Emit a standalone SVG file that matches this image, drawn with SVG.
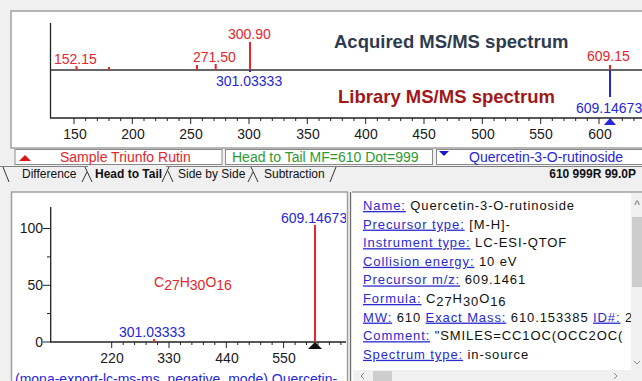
<svg xmlns="http://www.w3.org/2000/svg" width="642" height="381" viewBox="0 0 642 381">
<style>
text{font-family:"Liberation Sans",Arial,sans-serif}
.tk{font-size:14px;fill:#1a1a1a}
.red{fill:#e5262a}
.blue{fill:#2626dc}
.ax{stroke:#222;stroke-width:1.3;fill:none}
.tick{stroke:#222;stroke-width:1}
.pr{stroke:#e5262a;stroke-width:2}
.pb{stroke:#2626dc;stroke-width:2}
.tab{font-size:12px;fill:#111}
.tl{stroke:#333;stroke-width:1;fill:none}
.info{font-size:13px;fill:#111;letter-spacing:0.9px}
.lk{fill:#2a2ad0;text-decoration:underline}
.sb{font-size:12px;fill:#777}
</style>
<defs>
<clipPath id="cl"><rect x="12" y="193" width="334" height="188"/></clipPath>
<clipPath id="cr"><rect x="353" y="193" width="278" height="177"/></clipPath>
</defs>
<rect width="642" height="381" fill="#f0f0f0"/>

<!-- top spectrum panel -->
<g id="top-panel">
<rect x="11" y="11" width="632" height="137" fill="#fff" stroke="#a0a0a0" stroke-width="1.5"/>
<line x1="50.5" y1="23" x2="50.5" y2="118" class="ax"/>
<line x1="50" y1="118" x2="642" y2="118" class="ax"/>
<line x1="50" y1="70" x2="642" y2="70" stroke="#333" stroke-width="1.5"/>
<g class="tick">
<path d="M74 118v6M132.3 118v6M190.7 118v6M249 118v6M307.3 118v6M365.7 118v6M424 118v6M482.3 118v6M540.7 118v6M599 118v6"/>
<path d="M85.7 118v3M97.3 118v3M109 118v3M120.7 118v3M144 118v3M155.7 118v3M167.3 118v3M179 118v3M202.3 118v3M214 118v3M225.7 118v3M237.3 118v3M260.7 118v3M272.3 118v3M284 118v3M295.7 118v3M319 118v3M330.7 118v3M342.3 118v3M354 118v3M377.3 118v3M389 118v3M400.7 118v3M412.3 118v3M435.7 118v3M447.3 118v3M459 118v3M470.7 118v3M494 118v3M505.7 118v3M517.3 118v3M529 118v3M552.3 118v3M564 118v3M575.7 118v3M587.3 118v3M610.7 118v3M622.3 118v3M634 118v3"/>
</g>
<g class="tk" text-anchor="middle">
<text x="75" y="139">150</text><text x="133" y="139">200</text><text x="191" y="139">250</text><text x="249" y="139">300</text><text x="308" y="139">350</text><text x="366" y="139">400</text><text x="424" y="139">450</text><text x="483" y="139">500</text><text x="541" y="139">550</text><text x="600" y="139">600</text>
</g>
<g id="peaks-top">
<line x1="76.5" y1="66" x2="76.5" y2="70" class="pr"/>
<line x1="109" y1="67" x2="109" y2="70" class="pr"/>
<line x1="197" y1="65" x2="197" y2="70" class="pr"/>
<line x1="215.7" y1="64" x2="215.7" y2="70" class="pr"/>
<line x1="250" y1="42" x2="250" y2="70" class="pr"/>
<line x1="610" y1="65" x2="610" y2="70" class="pr"/>
<line x1="250" y1="70" x2="250" y2="72" class="pb"/>
<line x1="610" y1="70" x2="610" y2="97" class="pb"/>
<polygon points="604,125 616,125 610,118" fill="#2626dc"/>
</g>
<g font-size="14">
<text x="54" y="64" class="red">152.15</text>
<text x="193" y="62" class="red">271.50</text>
<text x="228" y="39" class="red">300.90</text>
<text x="587" y="61" class="red">609.15</text>
<text x="216" y="86" class="blue">301.03333</text>
<text x="576" y="113" class="blue">609.14673</text>
</g>
<text x="334" y="48" font-size="18.5" font-weight="bold" fill="#2f3b4f">Acquired MS/MS spectrum</text>
<text x="338" y="103" font-size="18.5" font-weight="bold" fill="#a01818">Library MS/MS spectrum</text>
</g>

<!-- legend bar -->
<g id="legend-bar">
<rect x="15" y="149.5" width="207" height="15" fill="#fff" stroke="#8a8a8a"/>
<polygon points="19,161 31,161 25,155" fill="#d81818"/>
<text x="60" y="162" font-size="14" class="red">Sample Triunfo Rutin</text>
<rect x="225.5" y="149.5" width="207" height="15" fill="#fff" stroke="#8a8a8a"/>
<text x="232" y="162" font-size="14" fill="#2e9a2e">Head to Tail MF=610 Dot=999</text>
<rect x="436.5" y="149.5" width="206" height="15" fill="#fff" stroke="#8a8a8a"/>
<polygon points="439,151 449,151 444,156" fill="#1a1ac8"/>
<text x="469" y="162" font-size="14" class="blue">Quercetin-3-O-rutinoside</text>
</g>

<!-- tabs -->
<g id="tabs">
<line x1="0" y1="166.5" x2="88" y2="166.5" stroke="#808080"/>
<line x1="166" y1="166.5" x2="642" y2="166.5" stroke="#808080"/>
<path class="tl" d="M3 167L9 182M82 182L87 172M85 167L92 182M162 182L169 167M168 171L173 182M248 182L253 172M251 167L258 182M330 182L336 167"/>
<text x="22" y="178" class="tab">Difference</text>
<text x="95" y="178" class="tab" font-weight="bold">Head to Tail</text>
<text x="178" y="178" class="tab">Side by Side</text>
<text x="264" y="178" class="tab">Subtraction</text>
<text x="636" y="178" class="tab" font-weight="bold" text-anchor="end">610 999R 99.0P</text>
</g>

<!-- bottom left plot -->
<g id="bottom-plot">
<rect x="11.5" y="192" width="336" height="190" fill="#fff" stroke="#a0a0a0" stroke-width="1.5"/>
<g clip-path="url(#cl)">
<line x1="50.7" y1="207" x2="50.7" y2="342" class="ax"/>
<line x1="50" y1="342" x2="346" y2="342" class="ax"/>
<path class="tick" d="M43 228.5h8M43 285.3h8M43 342h8M47 256.9h4M47 313.6h4"/>
<path class="tick" d="M111.7 342v6M169 342v6M226.3 342v6M283.6 342v6M123.2 342v3M134.6 342v3M146.1 342v3M157.5 342v3M180.5 342v3M191.9 342v3M203.4 342v3M214.8 342v3M237.8 342v3M249.2 342v3M260.7 342v3M272.1 342v3M295.1 342v3M306.5 342v3M318 342v3M329.4 342v3M340.9 342v3"/>
<g class="tk" font-size="13.5">
<text x="43" y="233" text-anchor="end">100</text>
<text x="43" y="290" text-anchor="end">50</text>
<text x="43" y="347" text-anchor="end">0</text>
<text x="112" y="363" text-anchor="middle">220</text>
<text x="169" y="363" text-anchor="middle">330</text>
<text x="227" y="363" text-anchor="middle">440</text>
<text x="284" y="363" text-anchor="middle">550</text>
</g>
<line x1="315" y1="225" x2="315" y2="342" class="pr"/>
<line x1="154" y1="339" x2="154" y2="342" class="pr"/>
<polygon points="308,349 322,349 315,342" fill="#111"/>
<text x="281" y="223" font-size="14" class="blue">609.14673</text>
<text x="119" y="337" font-size="14" class="blue">301.03333</text>
<text x="154" y="287" font-size="14" class="red">C<tspan dy="3">27</tspan><tspan dy="-3">H</tspan><tspan dy="3">30</tspan><tspan dy="-3">O</tspan><tspan dy="3">16</tspan></text>
<text x="15" y="384" font-size="14" class="blue">(mona-export-lc-ms-ms_negative_mode) Quercetin-</text>
</g>
</g>

<!-- divider -->
<line x1="350.5" y1="192" x2="350.5" y2="381" stroke="#6e6e6e" stroke-width="1.2"/>

<!-- info panel -->
<g id="info-panel">
<rect x="352" y="192" width="291" height="190" fill="#fff"/>
<line x1="352" y1="192" x2="642" y2="192" stroke="#a0a0a0" stroke-width="1.5"/>
<g clip-path="url(#cr)" class="info">
<text x="363" y="210"><tspan class="lk">Name:</tspan> Quercetin-3-O-rutinoside</text>
<text x="363" y="228.6"><tspan class="lk">Precursor type:</tspan> [M-H]-</text>
<text x="363" y="247.2"><tspan class="lk">Instrument type:</tspan> LC-ESI-QTOF</text>
<text x="363" y="265.8"><tspan class="lk">Collision energy:</tspan> 10 eV</text>
<text x="363" y="284.4"><tspan class="lk">Precursor m/z:</tspan> 609.1461</text>
<text x="363" y="303"><tspan class="lk">Formula:</tspan> C<tspan dy="3">27</tspan><tspan dy="-3">H</tspan><tspan dy="3">30</tspan><tspan dy="-3">O</tspan><tspan dy="3">16</tspan></text>
<text x="363" y="321.6"><tspan class="lk">MW:</tspan> 610 <tspan class="lk">Exact Mass:</tspan> 610.153385 <tspan class="lk">ID#:</tspan> 2</text>
<text x="363" y="340.2"><tspan class="lk">Comment:</tspan> "SMILES=CC1OC(OCC2OC(</text>
<text x="363" y="358.8"><tspan class="lk">Spectrum type:</tspan> in-source</text>
</g>
<rect x="631" y="193" width="11" height="177" fill="#f0f0f0"/>
<rect x="632" y="217" width="10" height="70" fill="#cdcdcd"/>
<text x="637" y="209" class="sb" text-anchor="middle">^</text>
<path d="M634 361l3 3 3-3" stroke="#888" fill="none"/>
<rect x="353" y="370" width="289" height="11" fill="#f0f0f0"/>
<rect x="373" y="371" width="19" height="10" fill="#cdcdcd"/>
<path d="M364 373l-3 3 3 3M614 373l3 3-3 3" stroke="#888" fill="none"/>
</g>
</svg>
